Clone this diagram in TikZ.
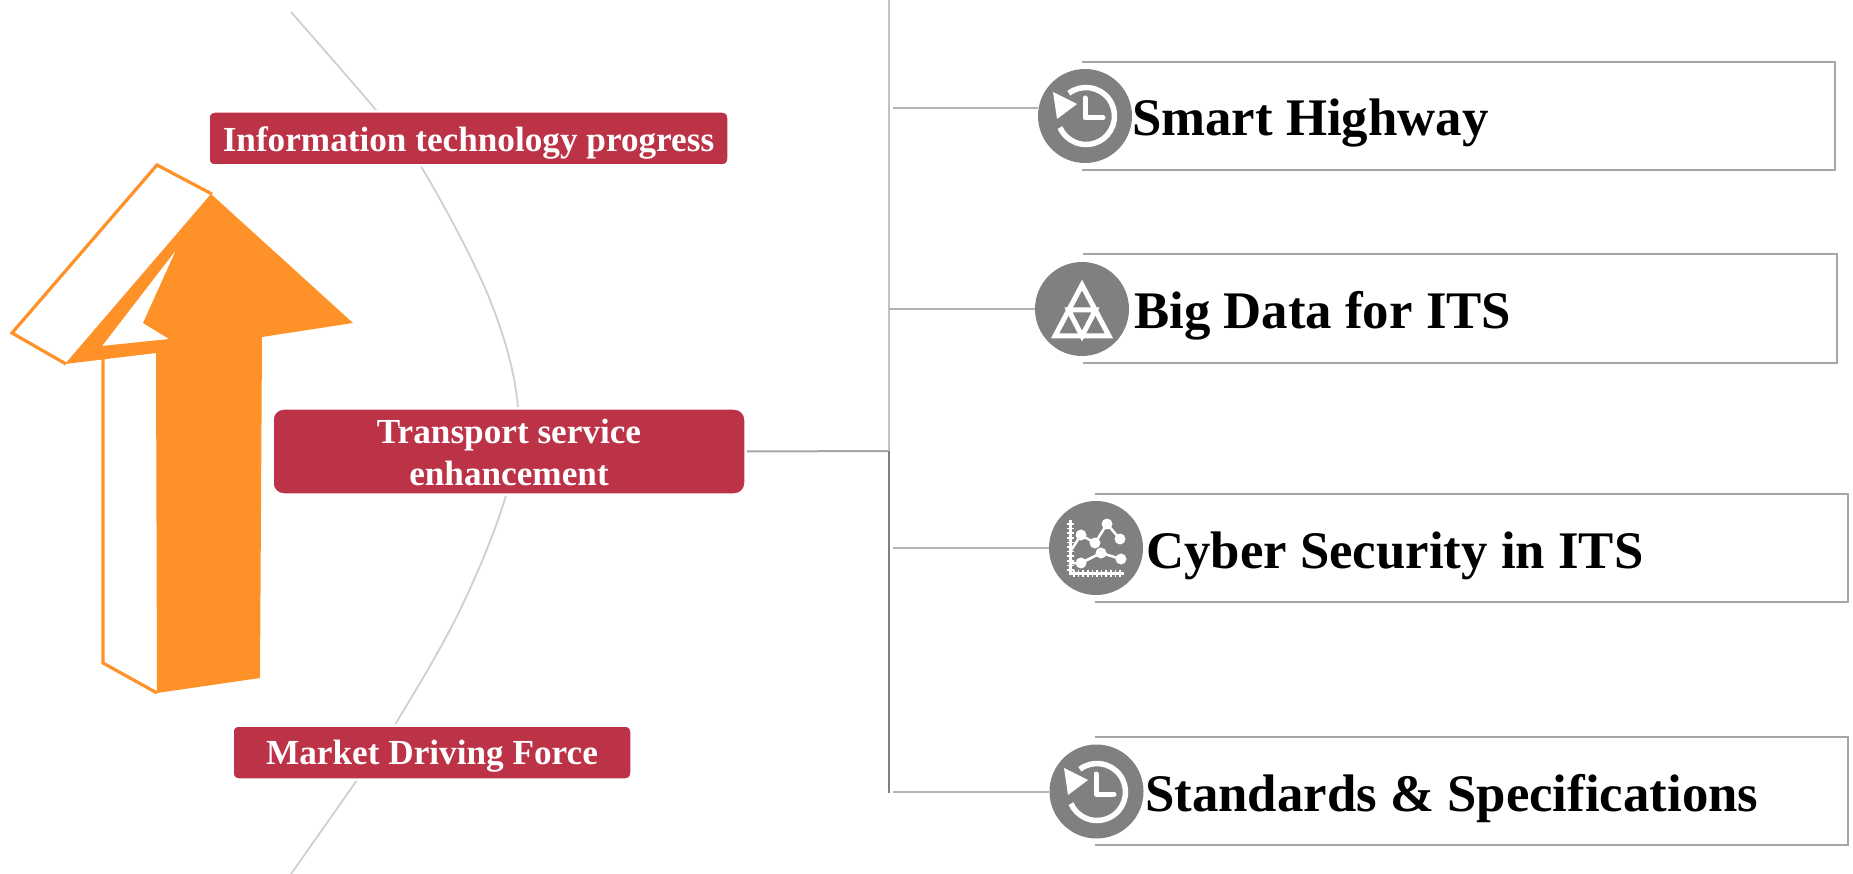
\documentclass[tikz,border=0pt]{standalone}
\usepackage{fontspec}
\setmainfont{Liberation Serif}
\definecolor{crim}{HTML}{BC3246}
\definecolor{org}{HTML}{FF9129}
\definecolor{icn}{HTML}{808080}
\definecolor{boxl}{HTML}{A6A6A6}
\definecolor{arcl}{HTML}{CFCFCF}
\tikzset{
 redbox/.style={fill=crim,draw=white,line width=2.5pt,rounded corners=6pt,text=white,align=center,font=\fontsize{35.2}{41.5}\selectfont\bfseries,inner sep=0pt},
 disc/.style={circle,fill=icn,minimum size=94pt,inner sep=0pt},
 brk/.style={draw=boxl,line width=2pt},
 tit/.style={anchor=west,font=\fontsize{52.8}{58}\selectfont\bfseries,text=black,inner sep=0pt},
 branch/.style={draw=boxl!85!white,line width=2.4pt},
 ico/.style={draw=white,line width=5pt},
}
\newcommand{\clockicon}[1]{%
 \begin{scope}[shift={(#1)}]
  \draw[ico,line width=5.5pt] (-127:28.5) arc[start angle=-127,end angle=156,radius=28.5];
  \fill[white] (-33,-24) -- (-9,-12) -- (-29,3) -- cycle;
  \draw[ico,line cap=round,line join=round] (-1,-18) -- (-1,2) -- (17,2);
 \end{scope}}
\begin{document}
\begin{tikzpicture}[x=1pt,y=-1pt]
\useasboundingbox (0,0) rectangle (1853,874);
\clip (0,0) rectangle (1853,874);
% arc
\draw[arcl,line width=1.8pt] plot[smooth,tension=0.6] coordinates {(291,12) (376,110) (422,168) (490,300) (518,408) (506,495) (460,610) (396,723) (357,780) (291,874)};
% arrow
\draw[org,line width=3.2pt,line join=miter,fill=white] (66,364) -- (12,333) -- (157,165) -- (212,194);
\draw[org,line width=3.2pt] (103,359) -- (103,663) -- (157,693);
\fill[org,even odd rule] (211,194) -- (353,323) -- (262,337) -- (260,678) -- (157,693) -- (156,353) -- (65,364) -- cycle
 (176,250) -- (143,323) -- (169,339) -- (102,346) -- cycle;
% nodes
\node[redbox,minimum width=520pt,minimum height=54pt] (info) at (468.5,138.5) {\raisebox{-12.6pt}[0pt][0pt]{Information technology progress}};
\node[redbox,rounded corners=11pt,minimum width=473pt,minimum height=86pt] (trans) at (509,451.5) {\raisebox{-10.8pt}[0pt][0pt]{\begin{tabular}{@{}c@{}}Transport service\\enhancement\end{tabular}}};
\node[redbox,minimum width=399pt,minimum height=54pt] (market) at (432,752.5) {\raisebox{-12.2pt}[0pt][0pt]{Market Driving Force}};
\coordinate (top) at (889,0);
\coordinate (mid) at (889,451);
\coordinate (bot) at (889,793);
\coordinate (j1) at (893,108);
\coordinate (j2) at (889,309);
\coordinate (j3) at (893,548);
\coordinate (j4) at (893,792);
\draw[draw=boxl,line width=2pt] (trans.east) -- (mid);
\draw[draw=boxl!70!white,line width=2.2pt] (top) -- (mid);
\draw[draw=icn,line width=2.2pt] (mid) -- (bot);
% boxes
\draw[brk] (1082,62) -- (1835,62) -- (1835,170) -- (1082,170);
\draw[brk] (1083,254) -- (1837,254) -- (1837,363) -- (1083,363);
\draw[brk] (1095,494) -- (1848,494) -- (1848,602) -- (1095,602);
\draw[brk] (1095,737) -- (1848,737) -- (1848,845) -- (1095,845);
\node[disc] (c1) at (1085,116) {};
\node[disc] (c2) at (1082,309) {};
\node[disc] (c3) at (1096,548) {};
\node[disc] (c4) at (1096.5,791.5) {};
\draw[branch] (j1) -- (c1.west|-j1);
\draw[branch] (j2) -- (c2.west|-j2);
\draw[branch] (j3) -- (c3.west|-j3);
\draw[branch] (j4) -- (c4.west|-j4);
\node[tit] (t1) at (1132,123) {Smart Highway};
\node[tit] (t2) at (1134,316) {Big Data for ITS};
\node[tit] (t3) at (1146,556) {Cyber Security in ITS};
\node[tit] (t4) at (1145,799) {Standards \& Specifications};
% icons
\clockicon{1086,116}
\clockicon{1097,792}
\begin{scope}[shift={(c2.center)}]
 \draw[ico,line join=miter] (0,-24) -- (-27,27) -- (27,27) -- cycle;
 \draw[ico,line join=miter] (-13.5,1) -- (0,27) -- (13.5,1) -- cycle;
\end{scope}
\begin{scope}[shift={(c3.center)}]
 \draw[white,line width=3pt] (-26,-28) -- (-26,25) -- (28,25);
 \foreach \k in {0,...,10} {\draw[white,line width=1.5pt] (-29.5,-24+4.6*\k) -- (-22.5,-24+4.6*\k);
   \draw[white,line width=1.5pt] (-22+4.6*\k,21.5) -- (-22+4.6*\k,28.5);}
 \draw[white,line width=2.5pt] (-26,4) -- (-15,-13) -- (-1,-5) -- (11,-24) -- (24,-9);
 \draw[white,line width=2.5pt] (-26,15) -- (-15,15) -- (5,5) -- (25,11);
 \foreach \p in {(-15,-13),(-1,-5),(11,-24),(24,-9),(-15,15),(5,5),(25,11)} \fill[white] \p circle (5.5pt);
\end{scope}
\end{tikzpicture}
\end{document}
